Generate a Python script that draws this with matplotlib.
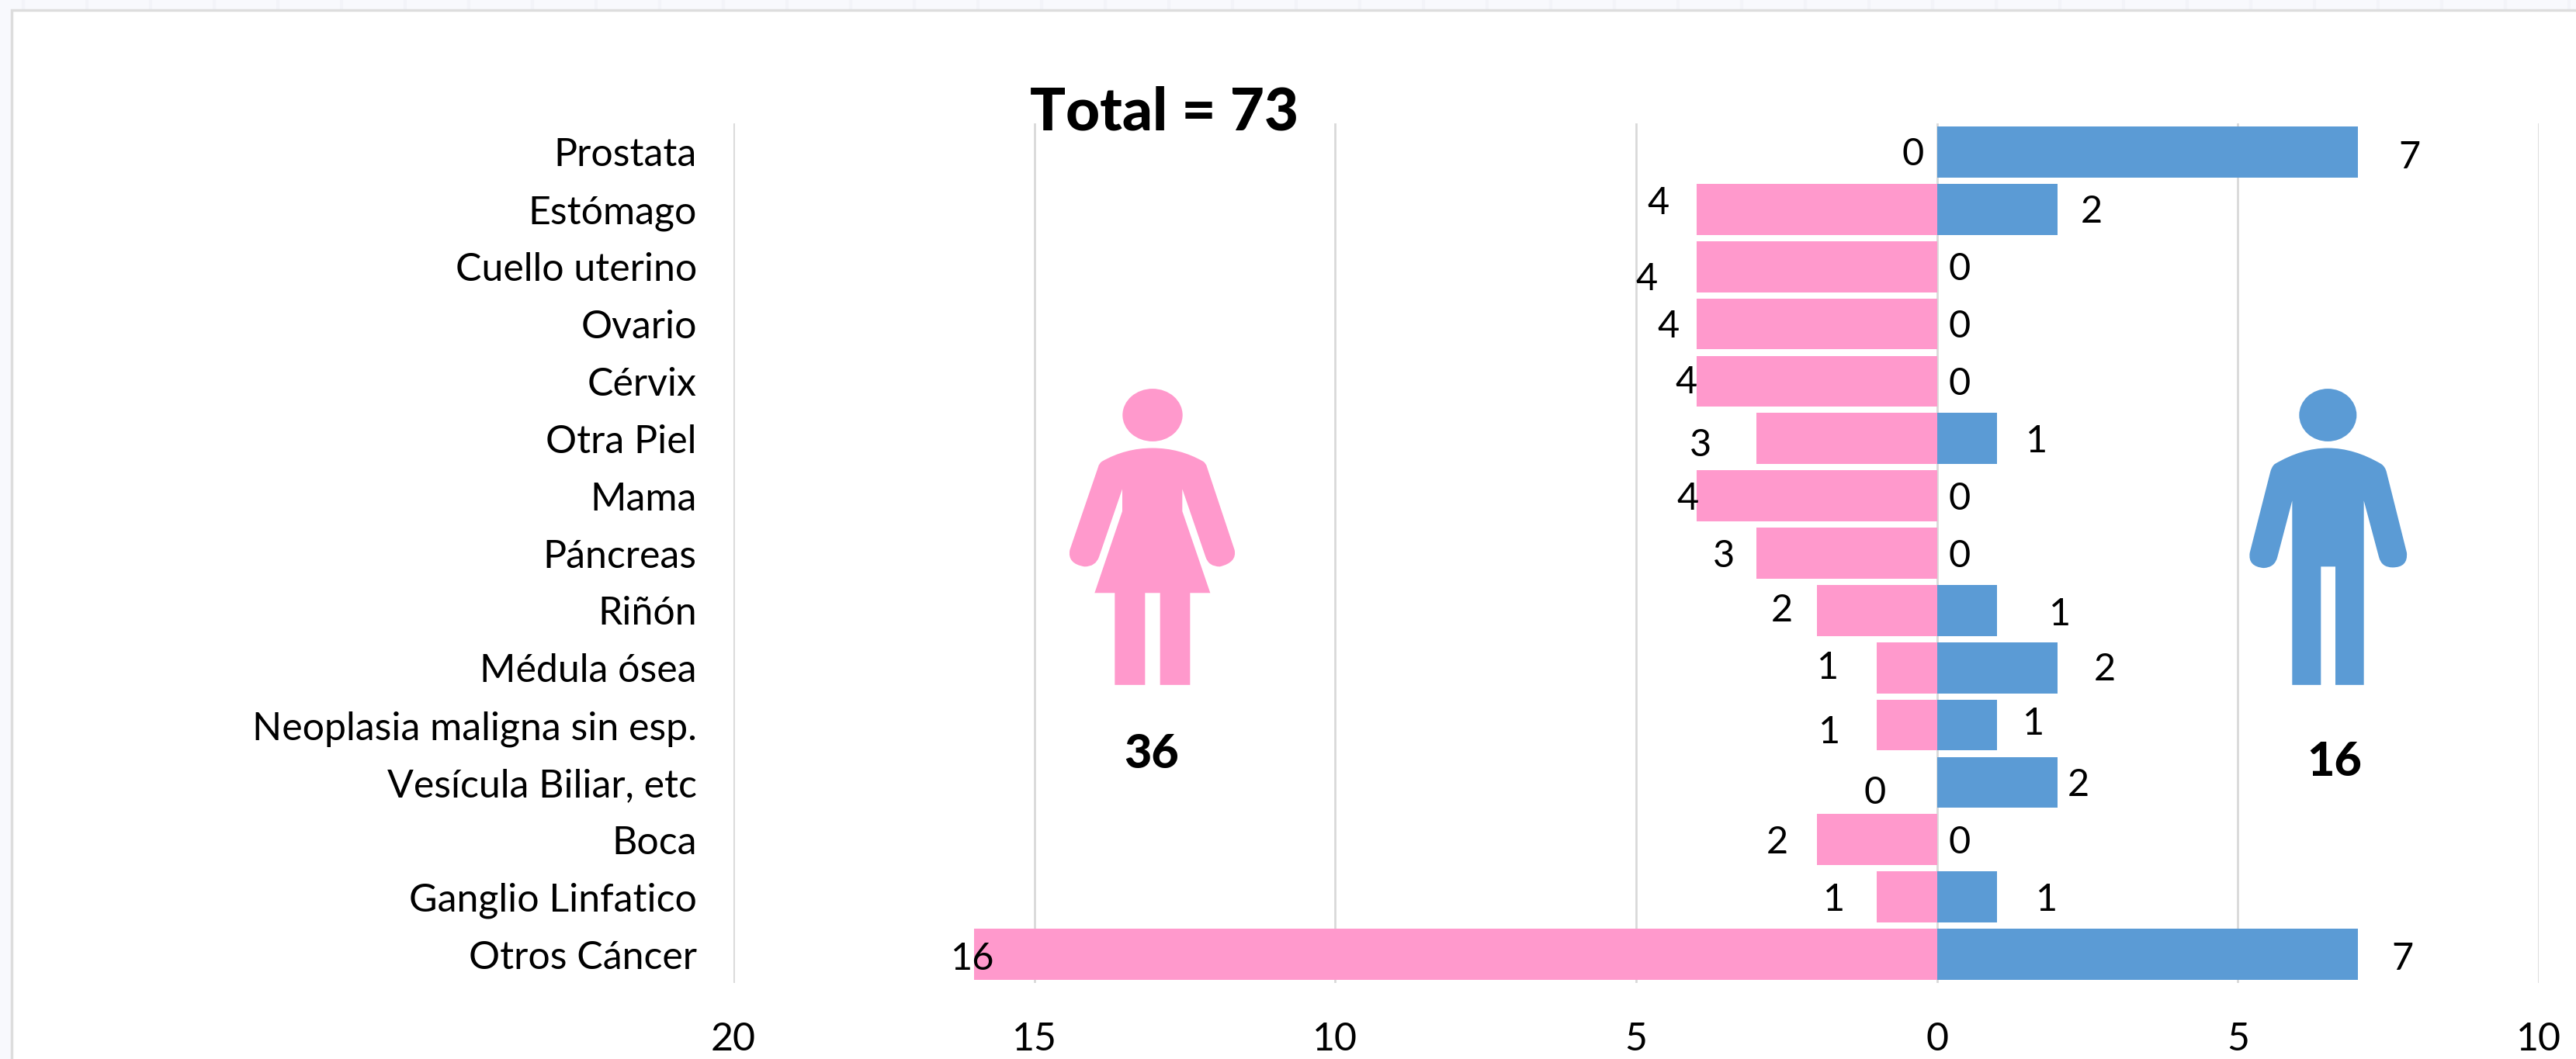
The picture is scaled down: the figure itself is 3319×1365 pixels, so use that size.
import matplotlib
matplotlib.use("Agg")
import matplotlib.pyplot as plt
from matplotlib.path import Path
from matplotlib.patches import PathPatch, Ellipse, Rectangle
from matplotlib.transforms import Affine2D

W, H = 3319, 1365
FONT = "Lato"

categories = ["Prostata", "Estómago", "Cuello uterino", "Ovario", "Cérvix", "Otra Piel", "Mama",
              "Páncreas", "Riñón", "Médula ósea", "Neoplasia maligna sin esp.",
              "Vesícula Biliar, etc", "Boca", "Ganglio Linfatico", "Otros Cáncer"]
mujeres = [0, 4, 4, 4, 4, 3, 4, 3, 2, 1, 1, 0, 2, 1, 16]
hombres = [7, 2, 0, 0, 0, 1, 0, 0, 1, 2, 1, 2, 0, 1, 7]
tick_values = [-20, -15, -10, -5, 0, 5, 10]
tick_labels = ["20", "15", "10", "5", "0", "5", "10"]
title = "Total = 73"
total_mujeres = "36"
total_hombres = "16"

# label nudges in px of the full-size picture, from bar end / row centre
SC = W / 1568
f_dx = [-14.5, -23, -30, -17, -6, -34, -5, -20, -21, -30, -29, -38, -24, -26, -1]
f_dy = [1.4, -3.5, 7.6, 1.7, 0.8, 3.9, 2, 2.1, 0.2, 0.3, 4.4, 6.5, 1.6, 1.7, 2.8]
m_dx = [31, 21, 13.5, 13.5, 13.5, 24, 13.5, 13.5, 38, 29, 22, 13, 13.5, 30, 27]
m_dy = [3.4, 1.5, 1.6, 1.7, 1.8, 1.9, 2, 2.1, 2.2, 1.3, -0.6, 1.5, 1.6, 1.7, 2.8]

PINK, BLUE = "#FF99CC", "#5B9BD5"
GRID = "#D9D9D9"

fig = plt.figure(figsize=(W / 100, H / 100), dpi=100, facecolor="#F8F9FD")
px = Affine2D().scale(1 / W, -1 / H).translate(0, 1) + fig.transFigure

# page background tiles and white panel
for x in range(30, W, 82):
    fig.add_artist(plt.Line2D([x, x], [0, 13], transform=px, color="#F3F4F9", lw=3, zorder=-3))
fig.add_artist(Rectangle((15, 13), W, H, transform=px, facecolor="white", edgecolor="#DDDDDD", lw=2.5, zorder=-2))

L, R, T, B = 945, 3271, 159, 1267
ax = fig.add_axes([L / W, 1 - B / H, (R - L) / W, (B - T) / H])
ax.patch.set_alpha(0)
ypos = list(range(len(categories)))
ax.barh(ypos, [-v for v in mujeres], height=0.89, color=PINK, zorder=3)
ax.barh(ypos, hombres, height=0.89, color=BLUE, zorder=3)
ax.set_xlim(-20, 10)
ax.set_ylim(len(categories) - 0.5, -0.5)
ax.set_xticks(tick_values, tick_labels, fontsize=36, family=FONT)
ax.set_yticks(ypos, categories, fontsize=36, family=FONT)
ax.tick_params(length=0, axis="y", pad=34)
ax.tick_params(length=0, axis="x", pad=36)
for t in ax.get_yticklabels():
    t.set_y(t.get_position()[1])
ax.grid(axis="x", color=GRID, lw=2, zorder=0)
ax.set_axisbelow(True)
for s in ax.spines.values():
    s.set_visible(False)

for i in ypos:
    ax.annotate(str(mujeres[i]), (-mujeres[i], i), xytext=(f_dx[i] * SC, -f_dy[i] * SC),
                textcoords="offset pixels", ha="center", va="center", fontsize=35, family=FONT, zorder=5)
    ax.annotate(str(hombres[i]), (hombres[i], i), xytext=(m_dx[i] * SC, -m_dy[i] * SC),
                textcoords="offset pixels", ha="center", va="center", fontsize=35, family=FONT, zorder=5)

fig.text(1500 / W, 1 - 145 / H, title, fontsize=55, fontweight=900, family=FONT, ha="center", va="center")
fig.text(1484 / W, 1 - 972 / H, total_mujeres, fontsize=44, fontweight=900, family=FONT, ha="center", va="center")
fig.text(3008 / W, 1 - 982 / H, total_hombres, fontsize=44, fontweight=900, family=FONT, ha="center", va="center")

M, C, Z = Path.MOVETO, Path.CURVE3, Path.LINETO
ZX, ZY = 3.0, 2.8   # zoomed crop scale used to trace the icons


def icon(segments, ox, oy, color):
    verts, codes = [], []
    for seg in segments:
        if len(seg) == 2:
            verts.append(seg)
            codes.append(M if not verts[:-1] else Z)
        else:
            verts += [seg[:2], seg[2:]]
            codes += [C, C]
    verts = [(ox + a / ZX, oy + b / ZY) for a, b in verts]
    fig.add_artist(PathPatch(Path(verts, codes), transform=px, facecolor=color, edgecolor="none"))


woman = [(555, 357), (660, 357, 750, 405), (762, 412, 765, 425), (872, 725), (882, 770, 815, 785),
         (772, 785, 760, 750), (670, 505), (670, 585), (778, 880), (700, 880), (700, 1212), (584, 1212),
         (584, 880), (526, 880), (526, 1212), (409, 1212), (409, 880), (331, 880), (438, 585), (438, 505),
         (348, 750), (335, 785, 292, 785), (225, 775, 235, 725), (345, 425), (348, 412, 360, 405),
         (450, 357, 555, 357)]
man = [(598, 357), (700, 357, 805, 415), (820, 425, 825, 445), (903, 735), (908, 788, 848, 788),
       (805, 788, 795, 750), (737, 547), (737, 1212), (627, 1212), (627, 785), (571, 785), (571, 1212),
       (460, 1212), (460, 547), (403, 750), (393, 788, 350, 790), (288, 785, 296, 735), (375, 445),
       (380, 425, 392, 415), (497, 357, 598, 357)]
icon(woman, 1300, 450, PINK)
icon(man, 2800, 450, BLUE)
fig.add_artist(Ellipse((1300 + 555 / ZX, 450 + 238 / ZY), 232 / ZX, 190 / ZY, transform=px, facecolor=PINK, edgecolor="none"))
fig.add_artist(Ellipse((2800 + 598 / ZX, 450 + 238 / ZY), 222 / ZX, 190 / ZY, transform=px, facecolor=BLUE, edgecolor="none"))

fig.savefig("out.png", dpi=100, facecolor=fig.get_facecolor())
